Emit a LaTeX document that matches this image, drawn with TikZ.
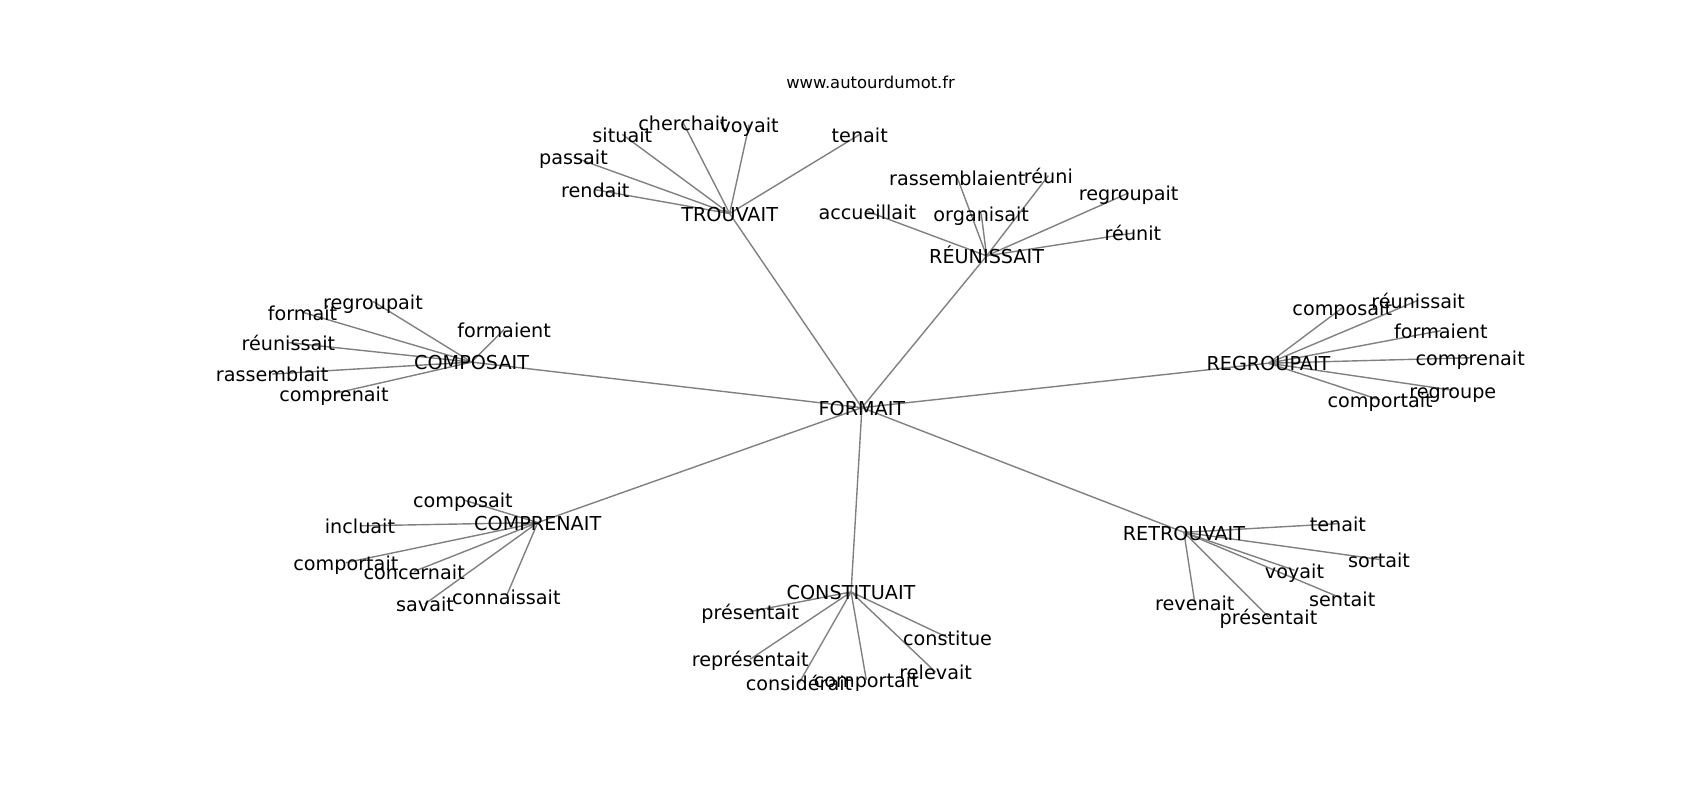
\documentclass[tikz,border=0pt]{standalone}
\usepackage{fontspec}
\setmainfont{DejaVu Sans}
\usetikzlibrary{backgrounds}

\begin{document}
\begin{tikzpicture}[x=0.5421pt, y=-0.5421pt,
		word/.style={inner sep=0pt, text height=0.88em, text depth=0.1em, font=\fontsize{9.6}{11}\selectfont},
		link/.style={draw=gray, line width=0.7pt}]
		%%%%% START %%%%%
		
		\useasboundingbox (0, 0) rectangle (1568, 738);
		\node[inner sep=0pt, font=\fontsize{8.2}{10}\selectfont] (site) at (803, 76) {www.autourdumot.fr};
		
		\node[word] (formait) at (795, 376) {FORMAIT};
		
		\node[word] (trouvait) at (673, 197) {TROUVAIT};
		\node[word] (tr-cherchait) at (630, 113) {cherchait};
		\node[word] (tr-voyait) at (691, 115) {voyait};
		\node[word] (tr-situait) at (574, 124) {situait};
		\node[word] (tr-passait) at (529, 145) {passait};
		\node[word] (tr-rendait) at (549, 175) {rendait};
		\node[word] (tr-tenait) at (793, 124) {tenait};
		
		\node[word] (reunissait) at (910, 236) {RÉUNISSAIT};
		\node[word] (re-rassemblaient) at (883, 164) {rassemblaient};
		\node[word] (re-reuni) at (967, 162) {réuni};
		\node[word] (re-organisait) at (905, 197) {organisait};
		\node[word] (re-accueillait) at (800, 195) {accueillait};
		\node[word] (re-regroupait) at (1041, 178) {regroupait};
		\node[word] (re-reunit) at (1045, 215) {réunit};
		
		\node[word] (composait) at (435, 334) {COMPOSAIT};
		\node[word] (co-regroupait) at (344, 278) {regroupait};
		\node[word] (co-formait) at (279, 288) {formait};
		\node[word] (co-formaient) at (465, 304) {formaient};
		\node[word] (co-reunissait) at (266, 316) {réunissait};
		\node[word] (co-rassemblait) at (251, 345) {rassemblait};
		\node[word] (co-comprenait) at (308, 363) {comprenait};
		
		\node[word] (regroupait) at (1170, 335) {REGROUPAIT};
		\node[word] (rg-composait) at (1238, 284) {composait};
		\node[word] (rg-reunissait) at (1308, 277) {réunissait};
		\node[word] (rg-formaient) at (1329, 305) {formaient};
		\node[word] (rg-comprenait) at (1356, 330) {comprenait};
		\node[word] (rg-regroupe) at (1340, 360) {regroupe};
		\node[word] (rg-comportait) at (1273, 369) {comportait};
		
		\node[word] (comprenait) at (496, 482) {COMPRENAIT};
		\node[word] (cp-composait) at (427, 461) {composait};
		\node[word] (cp-incluait) at (332, 485) {incluait};
		\node[word] (cp-comportait) at (319, 519) {comportait};
		\node[word] (cp-concernait) at (382, 527) {concernait};
		\node[word] (cp-savait) at (392, 557) {savait};
		\node[word] (cp-connaissait) at (467, 550) {connaissait};
		
		\node[word] (constituait) at (785, 546) {CONSTITUAIT};
		\node[word] (cs-presentait) at (692, 564) {présentait};
		\node[word] (cs-representait) at (692, 608) {représentait};
		\node[word] (cs-considerait) at (737, 630) {considérait};
		\node[word] (cs-comportait) at (799, 627) {comportait};
		\node[word] (cs-relevait) at (863, 620) {relevait};
		\node[word] (cs-constitue) at (874, 588) {constitue};
		
		\node[word] (retrouvait) at (1092, 491) {RETROUVAIT};
		\node[word] (rt-tenait) at (1234, 483) {tenait};
		\node[word] (rt-sortait) at (1272, 516) {sortait};
		\node[word] (rt-voyait) at (1194, 526) {voyait};
		\node[word] (rt-sentait) at (1238, 552) {sentait};
		\node[word] (rt-revenait) at (1102, 556) {revenait};
		\node[word] (rt-presentait) at (1170, 569) {présentait};
		
		\begin{scope}[on background layer]
		\draw[link] (formait.center) -- (trouvait.center);
		\draw[link] (formait.center) -- (reunissait.center);
		\draw[link] (formait.center) -- (composait.center);
		\draw[link] (formait.center) -- (regroupait.center);
		\draw[link] (formait.center) -- (comprenait.center);
		\draw[link] (formait.center) -- (constituait.center);
		\draw[link] (formait.center) -- (retrouvait.center);
		
		\draw[link] (trouvait.center) -- (tr-cherchait.center);
		\draw[link] (trouvait.center) -- (tr-voyait.center);
		\draw[link] (trouvait.center) -- (tr-situait.center);
		\draw[link] (trouvait.center) -- (tr-passait.center);
		\draw[link] (trouvait.center) -- (tr-rendait.center);
		\draw[link] (trouvait.center) -- (tr-tenait.center);
		
		\draw[link] (reunissait.center) -- (re-rassemblaient.center);
		\draw[link] (reunissait.center) -- (re-reuni.center);
		\draw[link] (reunissait.center) -- (re-organisait.center);
		\draw[link] (reunissait.center) -- (re-accueillait.center);
		\draw[link] (reunissait.center) -- (re-regroupait.center);
		\draw[link] (reunissait.center) -- (re-reunit.center);
		
		\draw[link] (composait.center) -- (co-regroupait.center);
		\draw[link] (composait.center) -- (co-formait.center);
		\draw[link] (composait.center) -- (co-formaient.center);
		\draw[link] (composait.center) -- (co-reunissait.center);
		\draw[link] (composait.center) -- (co-rassemblait.center);
		\draw[link] (composait.center) -- (co-comprenait.center);
		
		\draw[link] (regroupait.center) -- (rg-composait.center);
		\draw[link] (regroupait.center) -- (rg-reunissait.center);
		\draw[link] (regroupait.center) -- (rg-formaient.center);
		\draw[link] (regroupait.center) -- (rg-comprenait.center);
		\draw[link] (regroupait.center) -- (rg-regroupe.center);
		\draw[link] (regroupait.center) -- (rg-comportait.center);
		
		\draw[link] (comprenait.center) -- (cp-composait.center);
		\draw[link] (comprenait.center) -- (cp-incluait.center);
		\draw[link] (comprenait.center) -- (cp-comportait.center);
		\draw[link] (comprenait.center) -- (cp-concernait.center);
		\draw[link] (comprenait.center) -- (cp-savait.center);
		\draw[link] (comprenait.center) -- (cp-connaissait.center);
		
		\draw[link] (constituait.center) -- (cs-presentait.center);
		\draw[link] (constituait.center) -- (cs-representait.center);
		\draw[link] (constituait.center) -- (cs-considerait.center);
		\draw[link] (constituait.center) -- (cs-comportait.center);
		\draw[link] (constituait.center) -- (cs-relevait.center);
		\draw[link] (constituait.center) -- (cs-constitue.center);
		
		\draw[link] (retrouvait.center) -- (rt-tenait.center);
		\draw[link] (retrouvait.center) -- (rt-sortait.center);
		\draw[link] (retrouvait.center) -- (rt-voyait.center);
		\draw[link] (retrouvait.center) -- (rt-sentait.center);
		\draw[link] (retrouvait.center) -- (rt-revenait.center);
		\draw[link] (retrouvait.center) -- (rt-presentait.center);
		\end{scope}
		
		%%%%% END %%%%%
	\end{tikzpicture}
\end{document}
